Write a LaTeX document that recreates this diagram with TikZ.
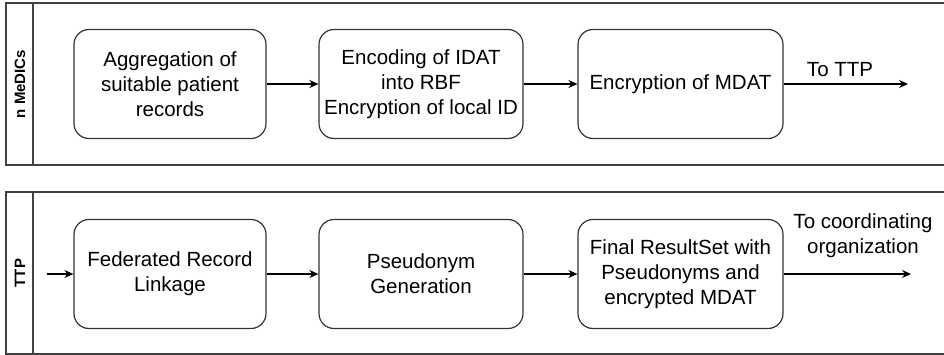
\documentclass[tikz,border=0pt]{standalone}
\usepackage{fontspec}
\setmainfont{Liberation Sans}
\usetikzlibrary{arrows.meta}
\begin{document}
\begin{tikzpicture}[x=1pt,y=-1pt,
  pool/.style={draw=black!75, line width=1.4pt},
  stepbox/.style={draw=black!80, line width=1.2pt, rounded corners=15pt, minimum width=192pt, minimum height=109pt, align=center, font=\fontsize{20.5}{25}\selectfont, inner sep=2pt},
  flow/.style={-{Stealth[length=9pt,width=8pt]}, line width=1.1pt, draw=black},
  lbl/.style={font=\fontsize{20.5}{25}\selectfont, align=center},
  poollbl/.style={font=\bfseries\fontsize{15}{18}\selectfont, rotate=90}]
\useasboundingbox (0,0) rectangle (944,355);
% pools
\draw[pool] (6,3) rectangle (950,165);
\draw[pool] (33,3) -- (33,165);
\draw[pool] (6,192) rectangle (950,354);
\draw[pool] (33,192) -- (33,354);
\node[poollbl] (p1) at (20,84) {n MeDICs};
\node[poollbl] (p2) at (20,273) {TTP};
% top row
\node[stepbox] (a1) at (170,84) {Aggregation of\\suitable patient\\records};
\node[stepbox, minimum width=204pt] (a2) at (421,84) {Encoding of IDAT\\into RBF\\Encryption of local ID};
\node[stepbox, minimum width=205pt] (a3) at (680.5,84) {Encryption of MDAT};
\coordinate (a4) at (908,84);
\draw[flow] (a1) -- (a2);
\draw[flow] (a2) -- (a3);
\draw[flow] (a3) -- (a4);
\node[lbl] (t1) at (840,70) {To TTP};
% bottom row
\coordinate (b0) at (47,274);
\node[stepbox] (b1) at (170,274) {Federated Record\\Linkage};
\node[stepbox, minimum width=204pt] (b2) at (421,274) {Pseudonym\\Generation};
\node[stepbox, minimum width=205pt] (b3) at (680.5,274) {Final ResultSet with\\Pseudonyms and\\encrypted MDAT};
\coordinate (b4) at (911,274);
\draw[flow] (b0) -- (b1);
\draw[flow] (b1) -- (b2);
\draw[flow] (b2) -- (b3);
\draw[flow] (b3) -- (b4);
\node[lbl] (t2) at (863,236) {To coordinating\\organization};
\end{tikzpicture}
\end{document}
